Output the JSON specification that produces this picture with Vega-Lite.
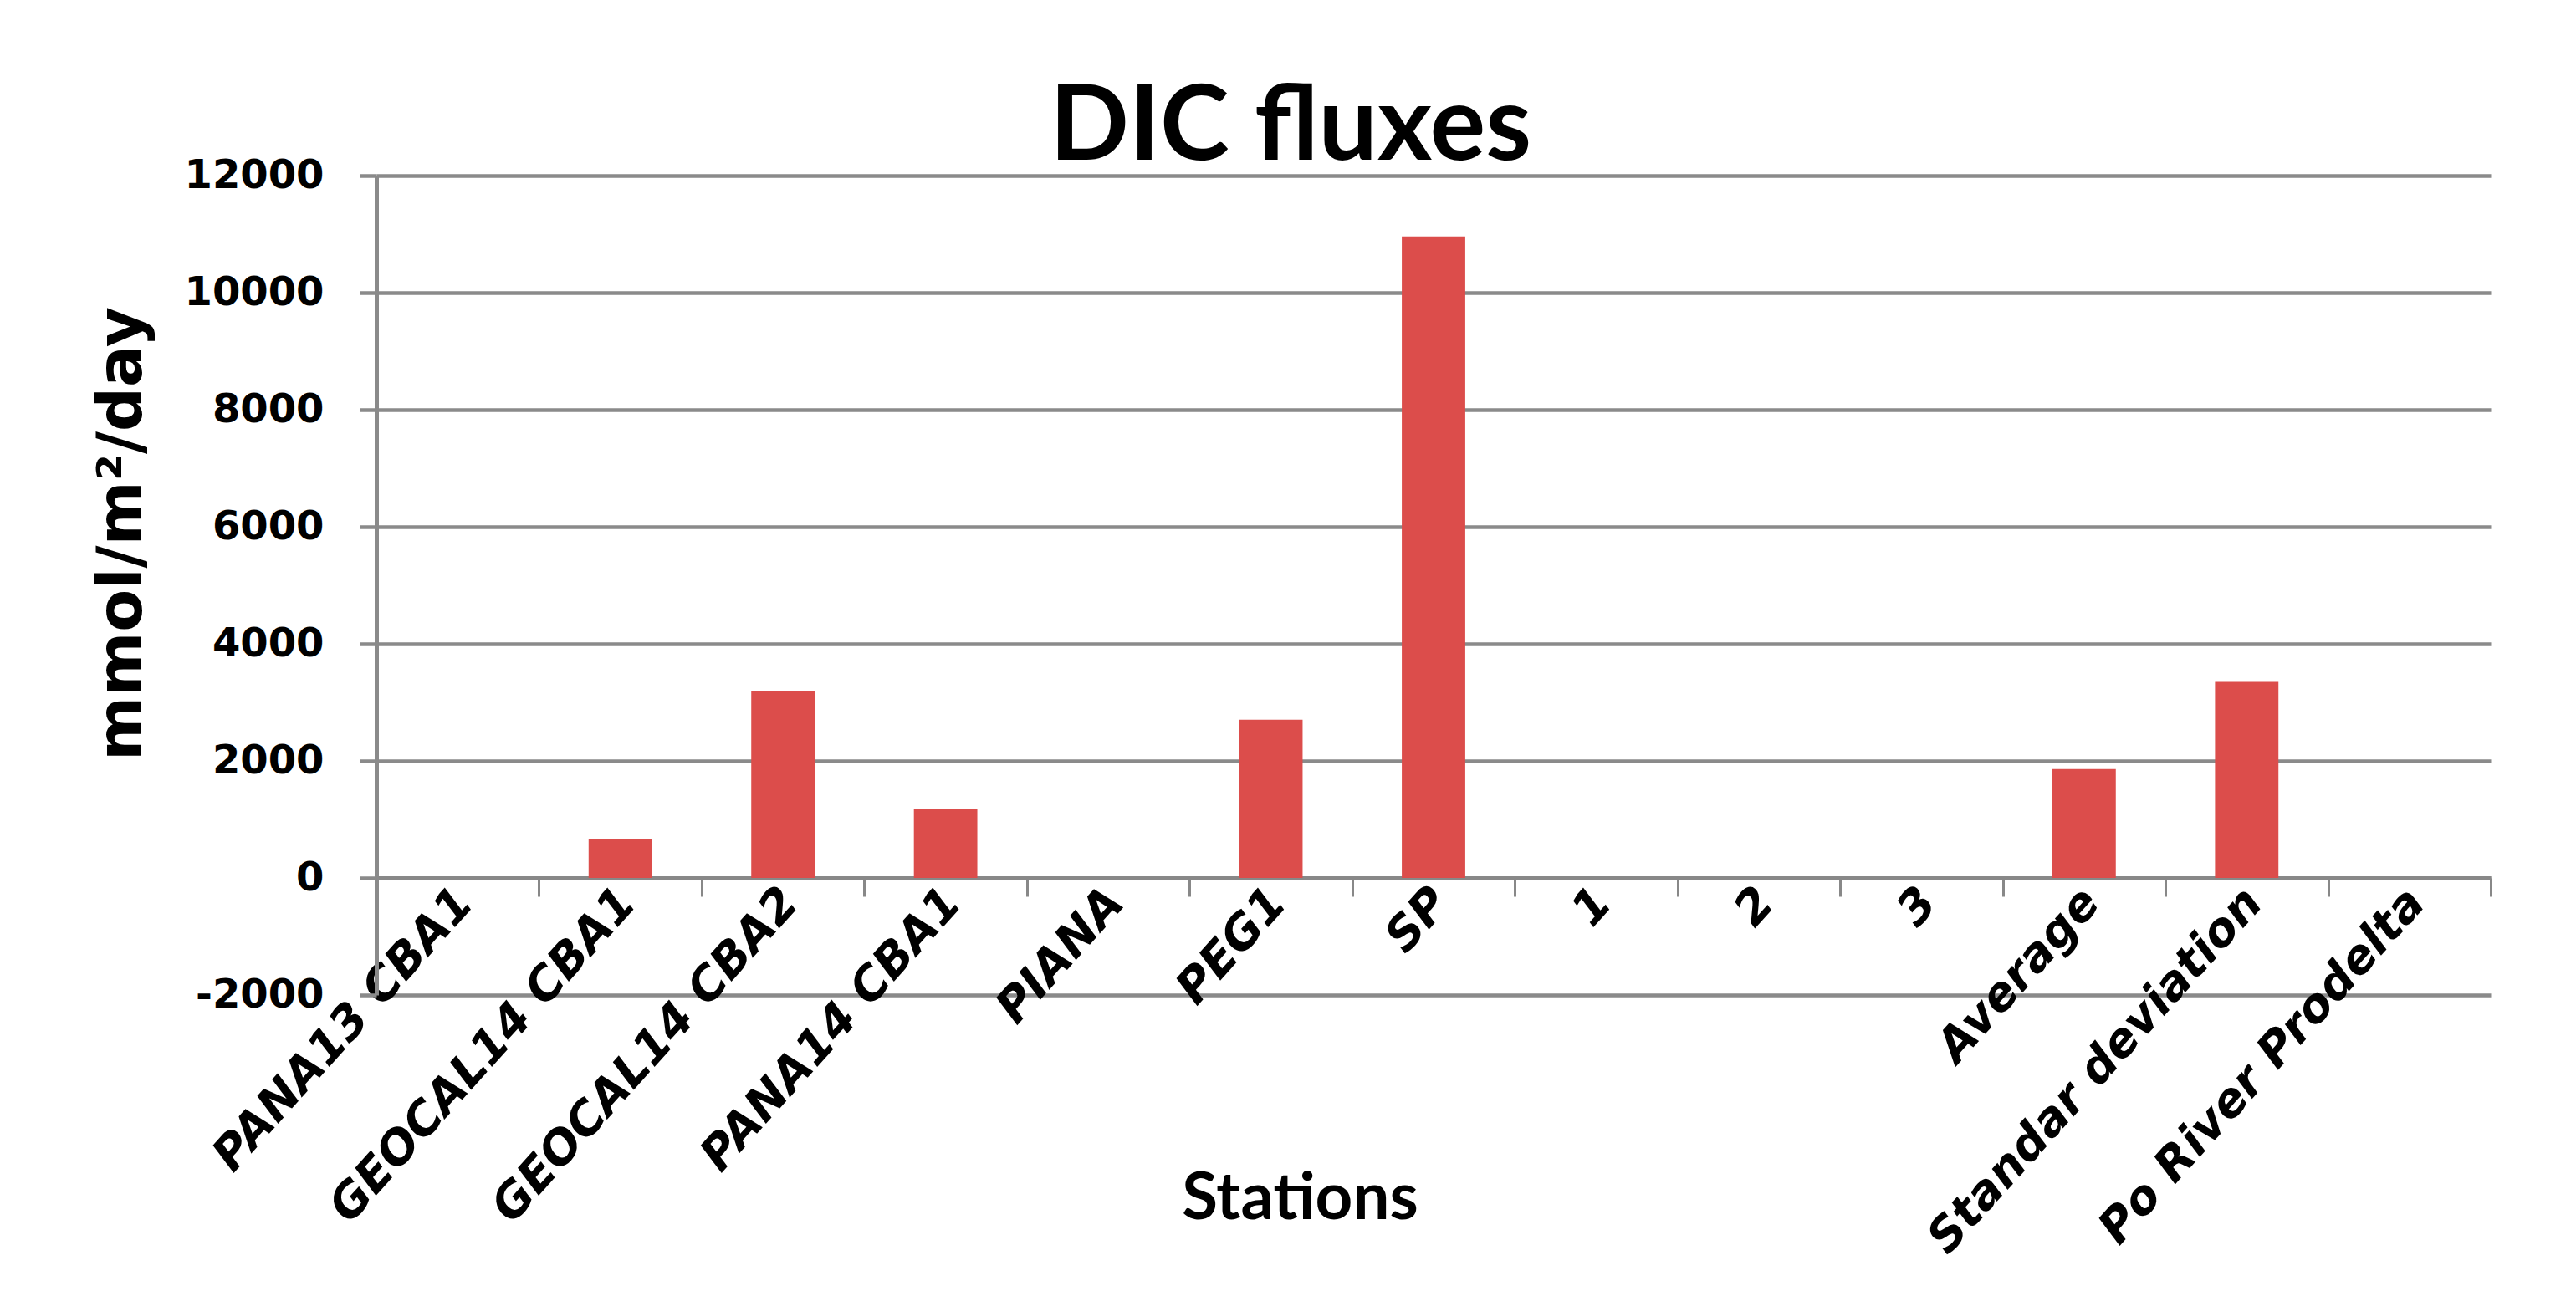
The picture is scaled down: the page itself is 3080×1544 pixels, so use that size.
{
  "$schema": "https://vega.github.io/schema/vega-lite/v6.json",
  "autosize": {"type": "none"},
  "padding": {"left": 450, "top": 210, "right": 102, "bottom": 354},
  "width": 2528,
  "height": 980,
  "background": "white",
  "title": {
    "text": "DIC fluxes",
    "font": "Lato",
    "fontWeight": "bold",
    "fontSize": 125,
    "color": "black",
    "anchor": "middle",
    "frame": "group",
    "dx": -171,
    "baseline": "alphabetic",
    "offset": -130
  },
  "config": {"view": {"stroke": null}},
  "data": {
    "values": [
      {"station": "PANA13 CBA1", "flux": 0},
      {"station": "GEOCAL14 CBA1", "flux": 660},
      {"station": "GEOCAL14 CBA2", "flux": 3190},
      {"station": "PANA14 CBA1", "flux": 1180},
      {"station": "PIANA", "flux": 0},
      {"station": "PEG1", "flux": 2705},
      {"station": "SP", "flux": 10960},
      {"station": "1", "flux": 0},
      {"station": "2", "flux": 0},
      {"station": "3", "flux": 0},
      {"station": "Average", "flux": 1860},
      {"station": "Standar deviation", "flux": 3350},
      {"station": "Po River Prodelta", "flux": 0}
    ]
  },
  "mark": {"type": "bar", "color": "#DC4D4B", "width": {"band": 0.39}},
  "encoding": {
    "x": {
      "field": "station",
      "type": "nominal",
      "sort": null,
      "scale": {"paddingInner": 0, "paddingOuter": 0},
      "axis": {
        "orient": "bottom",
        "offset": -140,
        "tickBand": "extent",
        "ticks": true,
        "tickSize": 22,
        "tickWidth": 3,
        "tickColor": "#888888",
        "domainColor": "#888888",
        "domainWidth": 5,
        "grid": false,
        "labelAngle": -48,
        "labelFont": "DejaVu Sans",
        "labelFontWeight": "bold",
        "labelFontStyle": "italic",
        "labelFontSize": 56,
        "labelColor": "black",
        "labelPadding": -2,
        "labelOffset": 8,
        "labelLimit": 0,
        "labelOverlap": false,
        "title": "Stations",
        "titleFont": "Lato",
        "titleFontWeight": "bold",
        "titleFontSize": 78,
        "titleColor": "black",
        "titleX": 1104,
        "titleY": 407,
        "titleAlign": "center",
        "titleBaseline": "alphabetic"
      }
    },
    "y": {
      "field": "flux",
      "type": "quantitative",
      "scale": {"domain": [-2000, 12000], "nice": false, "zero": false},
      "axis": {
        "values": [-2000, 0, 2000, 4000, 6000, 8000, 10000, 12000],
        "labelExpr": "'' + datum.value",
        "grid": true,
        "gridColor": "#8a8a8a",
        "gridWidth": 4.5,
        "gridOpacity": 1,
        "tickColor": "#8a8a8a",
        "tickSize": 20,
        "tickWidth": 4.5,
        "domainColor": "#8a8a8a",
        "domainWidth": 5,
        "labelFont": "DejaVu Sans",
        "labelFontWeight": "bold",
        "labelFontSize": 48,
        "labelColor": "black",
        "labelPadding": 43,
        "title": "mmol/m²/day",
        "titleFont": "DejaVu Sans",
        "titleFontWeight": "bold",
        "titleFontSize": 74,
        "titleColor": "black",
        "titleAngle": -90,
        "titleX": -304,
        "titleY": 428,
        "titleAlign": "center",
        "titleBaseline": "middle"
      }
    }
  }
}
